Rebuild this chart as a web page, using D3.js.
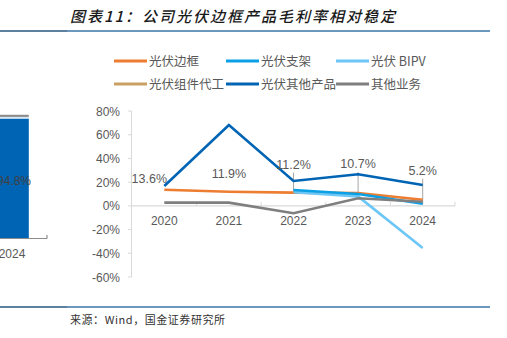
<!DOCTYPE html>
<html>
<head>
<meta charset="utf-8">
<script src="https://cdn.jsdelivr.net/npm/d3@7"></script>
<style>
  html, body { margin: 0; padding: 0; background: #fff; }
  svg { display: block; }
  text { font-family: "Liberation Sans", Arial, "Noto Sans CJK SC", sans-serif; }
</style>
</head>
<body>
<svg id="chart" width="507" height="338"></svg>
<script>
// --- data
const years = ['2020', '2021', '2022', '2023', '2024'];
const frameMargin = [13.6, 11.9, 11.2, 10.7, 5.2];        // 光伏边框
const bracketMargin = [null, null, 13.4, 10.0, 1.8];       // 光伏支架
const bipvMargin = [null, null, 11.6, 8.0, -35.5];         // 光伏 BIPV
const oemMargin = [null, null, null, null, null];          // 光伏组件代工 (not visible)
const otherPvMargin = [16.8, 68.2, 21.0, 26.6, 17.6];      // 光伏其他产品
const otherBizMargin = [2.7, 2.7, -6.2, 6.4, 3.5];         // 其他业务
const yTicks = [80, 60, 40, 20, 0, -20, -40, -60];

// left (cut-off) panel: revenue mix bar
const mixYear = ['2024'];
const mixParts = ['光伏其他产品', '光伏 BIPV', '其他业务'];
const mixValues = [94.8, 1.3, 1.7];

const seriesNames = ['光伏边框', '光伏支架', '光伏 BIPV', '光伏组件代工', '光伏其他产品', '其他业务'];
const seriesValues = [frameMargin, bracketMargin, bipvMargin, oemMargin, otherPvMargin, otherBizMargin];
const seriesColors = ['#ED7D31', '#0AA0E6', '#6CC6F6', '#C9A062', '#0064B4', '#7F7F7F'];

const svg = d3.select('#chart');
const textGray = '#595959';

// --- header / footer
svg.append('text')
  .attr('x', 70).attr('y', 22)
  .attr('textLength', 325).attr('lengthAdjust', 'spacing')
  .attr('font-size', 15).attr('font-weight', 500).attr('font-style', 'italic')
  .attr('fill', '#1a1a1a')
  .style('font-family', '"Noto Sans CJK SC", sans-serif')
  .text('图表11：公司光伏边框产品毛利率相对稳定');

[[0, 31], [0, 307]].forEach(([x, y]) => {
  svg.append('line').attr('x1', x).attr('x2', 67).attr('y1', y).attr('y2', y)
    .attr('stroke', '#24577f').attr('stroke-width', 1.5);
  svg.append('line').attr('x1', 67).attr('x2', 490).attr('y1', y).attr('y2', y)
    .attr('stroke', '#3a76a6').attr('stroke-width', 1.5);
});

svg.append('text')
  .attr('x', 70).attr('y', 324)
  .attr('textLength', 155).attr('lengthAdjust', 'spacing')
  .attr('font-size', 11).attr('fill', '#333')
  .style('font-family', '"Noto Sans CJK SC", monospace')
  .text('来源：Wind，国金证券研究所');

// --- legend
const legendPos = [[114, 61], [226, 61], [336, 61], [114, 84], [226, 84], [336, 84]];
const legend = svg.append('g');
seriesNames.forEach((name, i) => {
  const [lx, ly] = legendPos[i];
  legend.append('line')
    .attr('x1', lx).attr('x2', lx + 33).attr('y1', ly).attr('y2', ly)
    .attr('stroke', seriesColors[i]).attr('stroke-width', 3);
  legend.append('text')
    .attr('x', lx + 35).attr('y', ly + 4.5)
    .attr('font-size', 12.5).attr('fill', textGray)
    .style('font-family', '"Noto Sans CJK SC", sans-serif')
    .text(name);
});

// --- left cut-off panel
const left = svg.append('g');
const lx = d3.scaleBand().domain(mixYear).range([-16, 40]).padding(0.25);
const ly = d3.scaleLinear().domain([0, 100]).range([238, 112]);
const mixColors = ['#0064B4', '#D6E9F8', '#8C8C8C'];
let acc = 0;
mixValues.forEach((v, i) => {
  left.append('rect')
    .attr('x', lx('2024')).attr('width', lx.bandwidth())
    .attr('y', ly(acc + v)).attr('height', ly(acc) - ly(acc + v))
    .attr('fill', mixColors[i]);
  acc += v;
});
left.append('line').attr('x1', 0).attr('x2', 47).attr('y1', 238.5).attr('y2', 238.5)
  .attr('stroke', '#8c8c8c').attr('stroke-width', 1.2);
left.append('line').attr('x1', 47).attr('x2', 47).attr('y1', 235).attr('y2', 238.5)
  .attr('stroke', '#8c8c8c').attr('stroke-width', 1.2);
left.append('text')
  .attr('x', lx('2024') + lx.bandwidth() / 2 + 2).attr('y', 185)
  .attr('text-anchor', 'middle').attr('font-size', 12).attr('fill', '#404040')
  .text(mixValues[0].toFixed(1) + '%');
left.append('text')
  .attr('x', lx('2024') + lx.bandwidth() / 2).attr('y', 258)
  .attr('text-anchor', 'middle').attr('font-size', 12).attr('fill', textGray)
  .text(mixYear[0]);

// --- main line chart
const x = d3.scaleBand().domain(years).range([132, 455]);
const y = d3.scaleLinear().domain([-60, 80]).range([277, 111]);
const axisColor = '#d9d9d9';

const g = svg.append('g');

// y axis
g.append('line').attr('x1', 131.5).attr('x2', 131.5).attr('y1', y(80)).attr('y2', y(-60))
  .attr('stroke', axisColor);
yTicks.forEach(t => {
  g.append('line').attr('x1', 128).attr('x2', 131.5).attr('y1', y(t)).attr('y2', y(t))
    .attr('stroke', axisColor);
  g.append('text')
    .attr('x', 120).attr('y', y(t) + 4.5)
    .attr('text-anchor', 'end').attr('font-size', 12).attr('fill', textGray)
    .text(t + '%');
});

// zero line + category ticks
g.append('line').attr('x1', 132).attr('x2', 455).attr('y1', y(0)).attr('y2', y(0))
  .attr('stroke', axisColor).attr('stroke-width', 1.2);
years.forEach((yr, i) => {
  const bx = x(yr) + x.bandwidth();
  g.append('line').attr('x1', bx).attr('x2', bx).attr('y1', y(0) - 4).attr('y2', y(0))
    .attr('stroke', axisColor);
  g.append('text')
    .attr('x', x(yr) + x.bandwidth() / 2).attr('y', y(0) + 19)
    .attr('text-anchor', 'middle').attr('font-size', 12).attr('fill', textGray)
    .text(yr);
});

// leader lines for frame labels (drawn under lines)
const labelDx = [-15, 0, 0, 0, 0];
const labelDy = [12, 19, 29, 30, 30];
const leaderTo = [null, null, 0, 0, 5];
years.forEach((yr, i) => {
  if (leaderTo[i] === null) return;
  const cx = x(yr) + x.bandwidth() / 2;
  const ty = y(frameMargin[i]) - labelDy[i] + 9;
  g.append('line').attr('x1', cx).attr('x2', cx).attr('y1', ty).attr('y2', y(frameMargin[i]) + leaderTo[i])
    .attr('stroke', '#a6a6a6').attr('stroke-width', 1);
});

const line = d3.line()
  .defined(d => d != null)
  .x((d, i) => x(years[i]) + x.bandwidth() / 2)
  .y(d => y(d));

const drawOrder = [0, 3, 2, 1, 4, 5];
drawOrder.forEach(k => {
  g.append('path')
    .datum(seriesValues[k])
    .attr('d', (vals) => line(vals))
    .attr('fill', 'none')
    .attr('stroke', seriesColors[k])
    .attr('stroke-width', 2.6)
    .attr('stroke-linejoin', 'miter');
});

// frame labels
years.forEach((yr, i) => {
  g.append('text')
    .attr('x', x(yr) + x.bandwidth() / 2 + labelDx[i])
    .attr('y', y(frameMargin[i]) - labelDy[i] + 5)
    .attr('text-anchor', 'middle').attr('font-size', 12.5).attr('fill', textGray)
    .text(frameMargin[i].toFixed(1) + '%');
});
</script>
</body>
</html>
